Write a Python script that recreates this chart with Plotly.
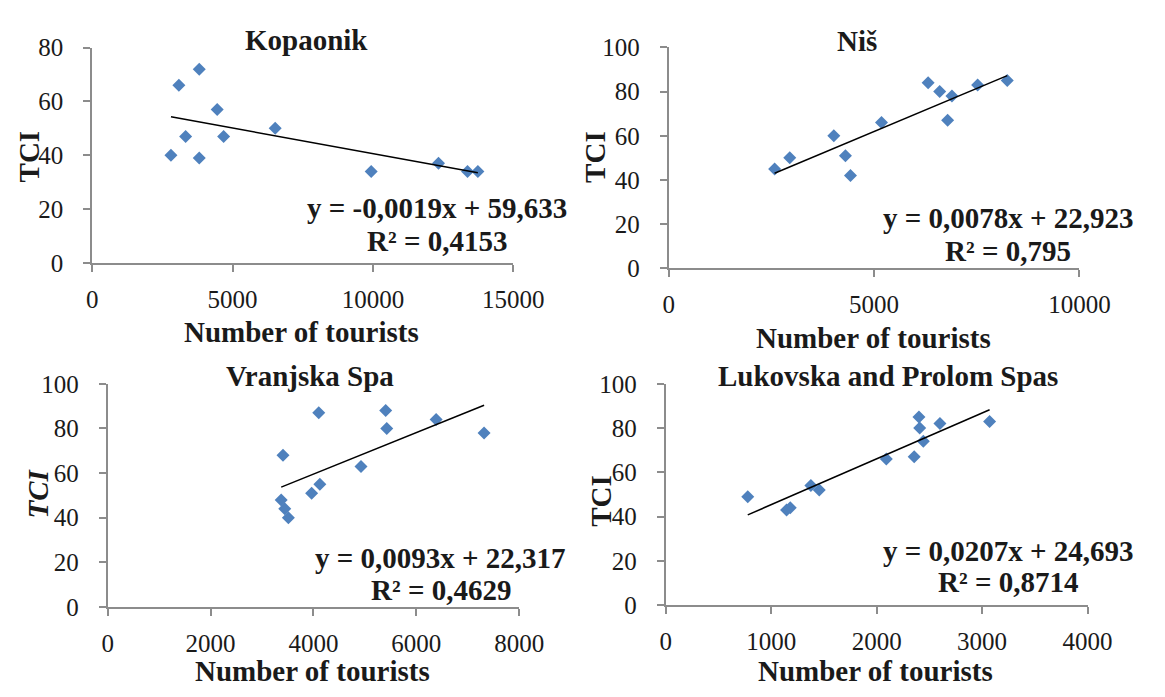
import plotly.graph_objects as go

W, H = 1165, 697

# ---------------- data ----------------
titles = ["Kopaonik", "Niš", "Vranjska Spa", "Lukovska and Prolom Spas"]

kop_x = [2806, 3087, 3814, 4452, 3329, 4681, 3814, 6518, 9936, 12334, 13367, 13737]
kop_y = [40, 66, 72, 57, 47, 47, 39, 50, 34, 37, 34, 34]

nis_x = [2577, 2946, 4019, 4301, 4424, 5180, 6315, 6596, 6895, 6790, 7520, 8241]
nis_y = [45, 50, 60, 51, 42, 66, 84, 80, 78, 67, 83, 85]

vra_x = [3409, 3374, 3443, 3513, 3965, 4104, 4125, 4925, 5405, 5426, 6386, 7318]
vra_y = [68, 48, 44, 40, 51, 87, 55, 63, 88, 80, 84, 78]

luk_x = [777, 1145, 1180, 1376, 1455, 2091, 2356, 2401, 2408, 2442, 2600, 3071]
luk_y = [49, 43, 44, 54, 52, 66, 67, 85, 80, 74, 82, 83]

slopes = [-0.0019, 0.0078, 0.0093, 0.0207]
intercepts = [59.633, 22.923, 22.317, 24.693]
eq_text = ["y = -0,0019x + 59,633", "y = 0,0078x + 22,923",
           "y = 0,0093x + 22,317", "y = 0,0207x + 24,693"]
r2_text = ["R² = 0,4153", "R² = 0,795", "R² = 0,4629", "R² = 0,8714"]

x_max = [15000, 10000, 8000, 4000]
x_dtick = [5000, 5000, 2000, 1000]
y_max = [80, 100, 100, 100]
y_dtick = [20, 20, 20, 20]

# ---------------- layout (pixel geometry) ----------------
# plot boxes: (left, right, top, bottom) in pixels
boxes = [(89, 524, 36, 260), (684.5, 1108.7, 35.7, 265.7),
         (105, 530, 385.7, 618), (681.5, 1117, 385.7, 616)]
title_pos = [(310, 28), (879, 29), (314, 378), (911, 378)]
xtitle_pos = [(305, 332), (896, 338), (317, 684), (898, 684)]
ytitle_pos = [(24, 149), (608, 150), (33, 500), (615, 507)]
eq_pos = [(445, 203, 237), (1035, 213, 248), (449, 567, 600), (1035, 560, 592)]

xs = [kop_x, nis_x, vra_x, luk_x]
ys = [kop_y, nis_y, vra_y, luk_y]

FONT = "Liberation Serif"
AX = "#8c8c8c"
MARK = "#4f81bd"
TXT = "#1a1a1a"

def px(x):
    return x / W

def py(y):
    return 1 - y / H

fig = go.Figure()
layout = dict(width=W, height=H, margin=dict(l=0, r=0, t=0, b=0),
              paper_bgcolor="white", plot_bgcolor="white", showlegend=False,
              font=dict(family=FONT, color=TXT))
annotations = []

for i in range(4):
    xa = "x" if i == 0 else f"x{i+1}"
    ya = "y" if i == 0 else f"y{i+1}"
    l, r, t, b = boxes[i]
    layout["xaxis" if i == 0 else f"xaxis{i+1}"] = dict(
        domain=[px(l), px(r)], range=[0, x_max[i]], dtick=x_dtick[i], tick0=0,
        tickformat="d",
        anchor=ya, showline=True, linecolor=AX, linewidth=2, showgrid=False,
        zeroline=False, ticks="outside", ticklen=7, tickwidth=2, tickcolor=AX,
        tickfont=dict(family=FONT, size=25, color=TXT), ticklabelstandoff=6,
        fixedrange=True)
    layout["yaxis" if i == 0 else f"yaxis{i+1}"] = dict(
        domain=[py(b), py(t)], range=[0, y_max[i]], dtick=y_dtick[i], tick0=0,
        anchor=xa, showline=True, linecolor=AX, linewidth=2, showgrid=False,
        zeroline=False, ticks="outside", ticklen=7, tickwidth=2, tickcolor=AX,
        tickfont=dict(family=FONT, size=25, color=TXT), ticklabelstandoff=15,
        fixedrange=True)

    fig.add_trace(go.Scatter(x=xs[i], y=ys[i], mode="markers", xaxis=xa, yaxis=ya,
                             marker=dict(symbol="diamond", size=10, color=MARK,
                                         line=dict(width=0)),
                             cliponaxis=False, hoverinfo="skip"))
    x0, x1 = min(xs[i]), max(xs[i])
    fig.add_trace(go.Scatter(x=[x0, x1],
                             y=[slopes[i] * x0 + intercepts[i], slopes[i] * x1 + intercepts[i]],
                             mode="lines", xaxis=xa, yaxis=ya, hoverinfo="skip",
                             line=dict(color="black", width=1.5)))

    bold = dict(family=FONT, size=29, color=TXT)
    tx, ty = title_pos[i]
    annotations.append(dict(text=f"<b>{titles[i]}</b>", x=px(tx), y=py(ty), xref="paper",
                            yref="paper", xanchor="center", yanchor="middle",
                            showarrow=False, font=bold))
    tx, ty = xtitle_pos[i]
    annotations.append(dict(text="<b>Number of tourists</b>", x=px(tx), y=py(ty),
                            xref="paper", yref="paper", xanchor="center",
                            yanchor="middle", showarrow=False, font=bold))
    tx, ty = ytitle_pos[i]
    ytxt = "<b><i>TCI</i></b>" if i == 2 else "<b>TCI</b>"
    annotations.append(dict(text=ytxt, x=px(tx), y=py(ty), xref="paper", yref="paper",
                            xanchor="center", yanchor="middle", textangle=-90,
                            showarrow=False, font=bold))
    ex, ey1, ey2 = eq_pos[i]
    annotations.append(dict(text=f"<b>{eq_text[i]}</b>", x=px(ex), y=py(ey1),
                            xref="paper", yref="paper", xanchor="center",
                            yanchor="middle", showarrow=False, font=bold))
    annotations.append(dict(text=f"<b>{r2_text[i]}</b>", x=px(ex), y=py(ey2),
                            xref="paper", yref="paper", xanchor="center",
                            yanchor="middle", showarrow=False, font=bold))

layout["annotations"] = annotations
fig.update_layout(**layout)
fig.write_html("out.html", config={"displayModeBar": False},
               post_script="document.body.style.margin='0';document.body.style.overflow='hidden';")
